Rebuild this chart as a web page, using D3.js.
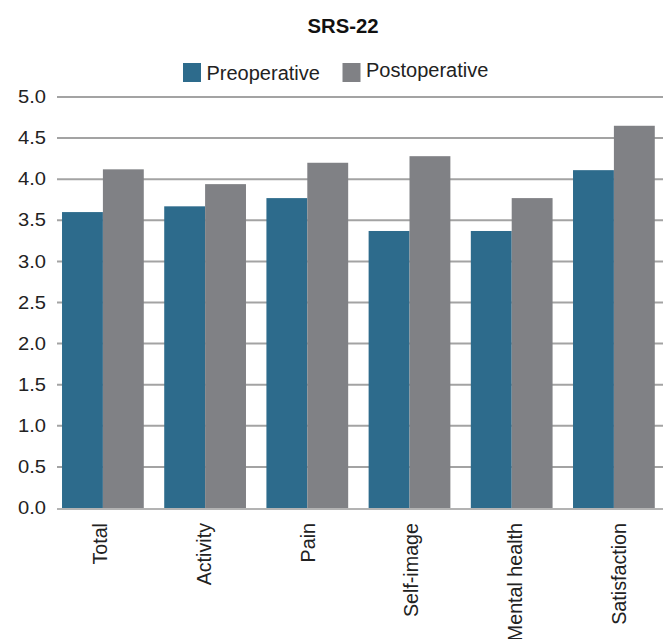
<!DOCTYPE html>
<html>
<head>
<meta charset="utf-8">
<script src="https://cdn.jsdelivr.net/npm/d3@7"></script>
<style>
  html, body { margin: 0; padding: 0; background: #fff; }
  svg { display: block; font-family: "Liberation Sans", Arial, sans-serif; }
</style>
</head>
<body>
<svg id="chart" width="669" height="639"></svg>
<script>
// SRS-22 domain scores, before and after surgery
const categories = ["Total", "Activity", "Pain", "Self-image", "Mental health", "Satisfaction"];
const seriesNames = ["Preoperative", "Postoperative"];
const preoperative = [3.60, 3.67, 3.77, 3.37, 3.37, 4.11];
const postoperative = [4.12, 3.94, 4.20, 4.28, 3.77, 4.65];
const yTicks = [0, 0.5, 1, 1.5, 2, 2.5, 3, 3.5, 4, 4.5, 5];
const colors = ["#2d6b8c", "#808185"];

const svg = d3.select("#chart");

const y = d3.scaleLinear().domain([0, 5]).range([508, 97]);
const x = d3.scaleBand().domain(categories).range([51.8, 665])
  .paddingInner(0.2).paddingOuter(0.1);
const xs = d3.scaleBand().domain(seriesNames).range([0, x.bandwidth()]);
// category label positions along the axis
const xLabel = d3.scalePoint().domain(categories).range([100.4, 619]);

// Gridlines
const gridLeft = 57, gridRight = 663;
svg.append("g")
  .selectAll("line")
  .data(yTicks.filter(d => d > 0))
  .join("line")
  .attr("x1", gridLeft).attr("x2", gridRight)
  .attr("y1", d => y(d)).attr("y2", d => y(d))
  .attr("stroke", "#a3a3a3").attr("stroke-width", 2);

// Y axis labels
const yAxis = d3.axisLeft(y).tickValues(yTicks).tickFormat(d3.format(".1f")).tickSize(0).tickPadding(0);
const gy = svg.append("g").attr("transform", `translate(${gridLeft},0)`).call(yAxis);
gy.select(".domain").remove();
gy.selectAll("text")
  .attr("x", 0)
  .attr("transform", "translate(-11,0) scale(1.15,1)")
  .attr("font-size", 17.5).attr("fill", "#222");

// Bars
const data = categories.map((c, i) => ({ c, vals: [preoperative[i], postoperative[i]] }));
const groups = svg.append("g").selectAll("g")
  .data(data).join("g")
  .attr("transform", d => `translate(${x(d.c)},0)`);
groups.selectAll("rect")
  .data(d => d.vals.map((v, k) => ({ k, v })))
  .join("rect")
  .attr("x", d => xs(seriesNames[d.k]))
  .attr("width", xs.bandwidth())
  .attr("y", d => y(d.v))
  .attr("height", d => y(0) - y(d.v))
  .attr("fill", d => colors[d.k]);

// Baseline
svg.append("line")
  .attr("x1", gridLeft).attr("x2", gridRight)
  .attr("y1", y(0) + 1).attr("y2", y(0) + 1)
  .attr("stroke", "#b3b3b3").attr("stroke-width", 2);

// X axis labels (rotated)
svg.append("g").selectAll("text")
  .data(categories).join("text")
  .attr("transform", d => `translate(${xLabel(d)},${y(0) + 15}) rotate(-90)`)
  .attr("text-anchor", "end")
  .attr("dy", "0.35em")
  .attr("font-size", 19.7)
  .attr("fill", "#222")
  .text(d => d);

// Title
svg.append("text")
  .attr("x", 343).attr("y", 33)
  .attr("text-anchor", "middle")
  .attr("font-size", 19.5).attr("font-weight", "bold")
  .attr("fill", "#111")
  .attr("transform", "translate(343,0) scale(1.04,1) translate(-343,0)")
  .text("SRS-22");

// Legend
const legend = [
  { name: seriesNames[0], color: colors[0], x: 183, ty: 79.5 },
  { name: seriesNames[1], color: colors[1], x: 342.5, ty: 77 }
];
const lg = svg.append("g").selectAll("g").data(legend).join("g");
lg.append("rect")
  .attr("x", d => d.x).attr("y", 63)
  .attr("width", 18).attr("height", 19)
  .attr("fill", d => d.color);
lg.append("text")
  .attr("x", d => d.x + 23.5).attr("y", d => d.ty)
  .attr("font-size", 20).attr("fill", "#222")
  .text(d => d.name);
</script>
</body>
</html>
